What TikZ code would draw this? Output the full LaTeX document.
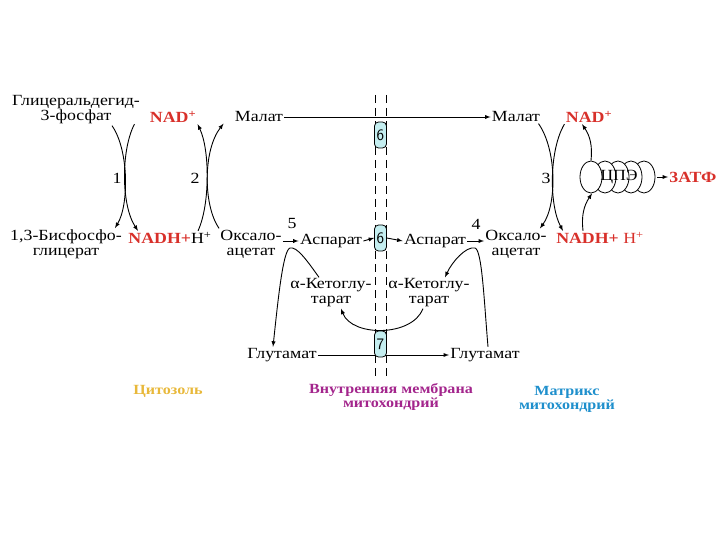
\documentclass[tikz,border=0pt]{standalone}
\usepackage{fontspec}
\setmainfont{Liberation Serif}[FakeStretch=1.15]
\usepackage{tikz}
\definecolor{nadrot}{HTML}{D8302A}
\definecolor{zytogelb}{HTML}{E8B83A}
\definecolor{membranlila}{HTML}{A3258C}
\definecolor{matrixblau}{HTML}{1E8FCC}
\definecolor{traegertuerkis}{HTML}{C4EEF0}

\begin{document}
\begin{tikzpicture}[x=1pt, y=-1pt,
        font=\fontsize{15.5}{15}\selectfont,
        >=latex, line width=0.9pt,
        stoff/.style={inner sep=1pt, align=center},
        nad/.style={inner sep=1pt, text=nadrot, font=\fontsize{15.5}{15}\selectfont\bfseries},
        traeger/.style={draw, line width=0.8pt, rounded corners=4pt, fill=traegertuerkis,
            minimum width=12pt, minimum height=26pt, inner sep=0pt, font=\fontsize{16}{16}\selectfont\sffamily},
        nummer/.style={inner sep=0pt},
        bereich/.style={align=center, font=\fontsize{14}{14}\selectfont\bfseries},
        membranlinie/.style={dash pattern=on 8pt off 5pt, line width=0.9pt}
        ]
    \useasboundingbox (0,0) rectangle (720,540);

    % Zytosol
    \node[stoff] (gap)   at (76,110)  {Глицеральдегид-\\3-фосфат};
    \node[nad]   (nadL)  at (173,117) {NAD\textsuperscript{+}};
    \node[stoff] (malL)  at (259,117) {Малат};
    \node[stoff] (bpg)   at (66,244)  {1,3-Бисфосфо-\\глицерат};
    \node[stoff] (nadhL) at (170,238) {{\color{nadrot}\bfseries NADH+}H\textsuperscript{+}};
    \node[stoff] (oaL)   at (251,244) {Оксало-\\ацетат};
    \node[stoff] (aspL)  at (331,241) {Аспарат};
    \node[stoff] (akgL)  at (331,293) {α-Кетоглу-\\тарат};
    \node[stoff] (gluL)  at (282,355) {Глутамат};

    % Matrix
    \node[stoff] (malR)  at (516,117) {Малат};
    \node[nad]   (nadR)  at (589,117) {NAD\textsuperscript{+}};
    \node[stoff] (aspR)  at (435,241) {Аспарат};
    \node[stoff] (oaR)   at (516,244) {Оксало-\\ацетат};
    \node[nad]   (nadhR) at (600,238) {NADH+ {\mdseries H\textsuperscript{+}}};
    \node[stoff] (akgR)  at (429,293) {α-Кетоглу-\\тарат};
    \node[stoff] (gluR)  at (485,355) {Глутамат};

    % Membran
    \draw[membranlinie] (375,95) -- (375,380);
    \draw[membranlinie] (386,95) -- (386,380);

    \draw[->] (malL.east) -- (malR.west);
    \draw[->] (gluL.east) -- (gluR.west);
    \draw[->] ([xshift=-6pt]akgR.south) .. controls (412,337) and (352,337) .. ([xshift=10pt]akgL.south);

    % Traeger
    \node[traeger] (t6o) at (380.5,135) {6};
    \node[traeger] (t6u) at (380.5,238) {6};
    \node[traeger] (t7)  at (380.5,344) {7};

    \draw[->] (oaL.east |- aspL.west) -- (aspL.west);
    \draw[->] (aspL.east) -- (t6u.west);
    \draw[->] (t6u.east) -- (aspR.west);
    \draw[->] (aspR.east) -- (oaR.west |- aspR.east);

    % Reaktionen 1-3
    \draw[->] ([xshift=36pt]gap.south) .. controls (129,150) and (129,205) .. ([xshift=49pt]bpg.north);
    \draw[->] ([xshift=-14pt]nadL.south west) .. controls (121,150) and (121,205) .. ([xshift=-32pt]nadhL.north);
    \draw[->] ([xshift=28pt]nadhL.north) .. controls (210,205) and (210,150) .. (nadL.south east);
    \draw[->] (oaL.north west) .. controls (203,205) and (203,150) .. ([xshift=-10pt]malL.south west);
    \draw[->] ([xshift=-3pt]malR.south east) .. controls (557,150) and (557,205) .. ([xshift=-8pt]oaR.north east);
    \draw[->] (nadR.south west) .. controls (549,150) and (549,205) .. ([xshift=-37pt]nadhR.north);

    % Transaminierung 4, 5
    \draw[->] ([xshift=-12pt]akgL.north) .. controls (308,262) and (297,246) .. (290,248)
              .. controls (283,250) and (278,300) .. ([xshift=-9pt]gluL.north);
    \draw[->] ([xshift=3pt]gluR.north) .. controls (484,300) and (482,250) .. (475,248)
              .. controls (466,246) and (452,262) .. ([xshift=16pt]akgR.north);

    % ЦПЭ
    \foreach \x in {644,631,618,605,591}
        \draw[fill=white, line width=0.8pt] (\x,177) ellipse (11 and 16);
    \node[stoff, minimum width=76pt, minimum height=32pt] (cpe) at (619,177) {ЦПЭ};
    \node[nad] (atp) at (693,177) {3АТФ};
    \draw[->] (cpe.east) -- (atp.west);
    \draw[->] ([xshift=-17pt]nadhR.north) to[bend left=20] ([xshift=-27pt]cpe.south);
    \draw[->] ([xshift=-28pt]cpe.north) to[bend right=20] ([xshift=-7pt]nadR.south);

    % Nummern
    \node[nummer] (n1) at (117,178) {1};
    \node[nummer] (n2) at (195,178) {2};
    \node[nummer] (n3) at (546,178) {3};
    \node[nummer] (n4) at (476,224) {4};
    \node[nummer] (n5) at (292,224) {5};

    % Bereiche
    \node[bereich, text=zytogelb]    (zyto)    at (168,391) {Цитозоль};
    \node[bereich, text=membranlila] (membran) at (391,397) {Внутренняя мембрана\\митохондрий};
    \node[bereich, text=matrixblau]  (matrix)  at (567,399) {Матрикс\\митохондрий};

\end{tikzpicture}
\end{document}
